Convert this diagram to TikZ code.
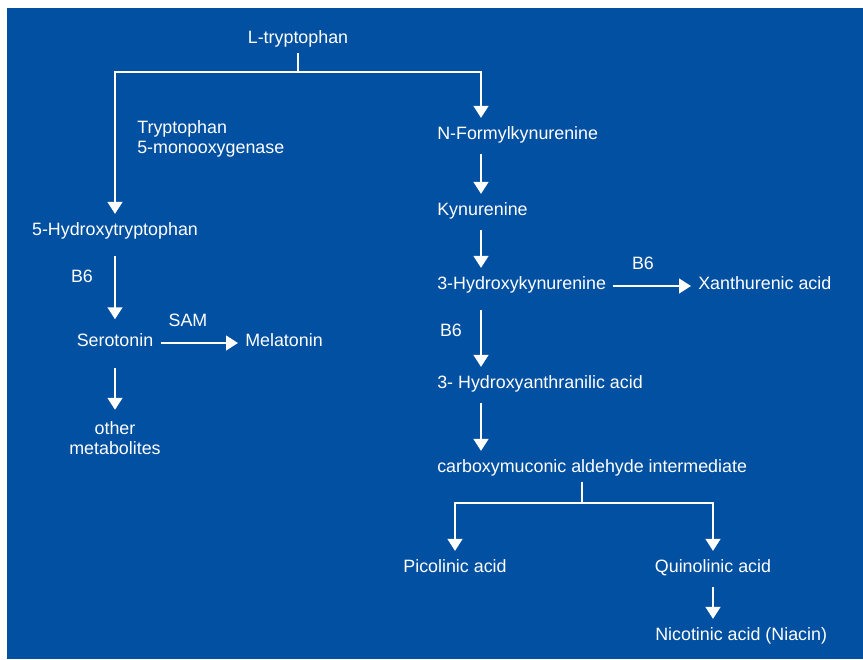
\documentclass[tikz,border=0pt]{standalone}
\usepackage{fontspec}
\setmainfont{Liberation Sans}
\usetikzlibrary{arrows.meta}
\definecolor{panelblue}{RGB}{2,80,161}
\tikzset{
  txtm/.style={text=white, font=\fontsize{12.7}{14.4}\selectfont, inner xsep=5pt, inner ysep=8pt},
  txt/.style={txtm, text height=0.72em, text depth=0.22em},
  arr/.style={draw=white, line width=1.4pt, -{Triangle[width=10.5pt,length=8.5pt]}},
  ln/.style={draw=white, line width=1.4pt},
}
\begin{document}
\begin{tikzpicture}[x=0.025cm,y=-0.025cm]
\useasboundingbox (0,0) rectangle (863,659);
\fill[panelblue] (7,8) rectangle (863,659);
% left branch
\node[txt] (trp) at (298,40) {L-tryptophan};
\node[txtm, align=left, anchor=west] (tph) at (130,139) {Tryptophan\\5-monooxygenase};
\node[txt] (htp) at (115,232) {5-Hydroxytryptophan};
\node[txt] (b6a) at (82,279) {B6};
\node[txt] (ser) at (115,343) {Serotonin};
\node[txt] (sam) at (188,323) {SAM};
\node[txt] (mel) at (284,343) {Melatonin};
\node[txtm, align=center] (oth) at (115,438) {other\\metabolites};
% right branch
\node[txt, anchor=west] (nfk) at (430,136) {N-Formylkynurenine};
\node[txt, anchor=west] (kyn) at (430,212) {Kynurenine};
\node[txt, anchor=west] (hky) at (430,286) {3-Hydroxykynurenine};
\node[txt] (b6b) at (643,266) {B6};
\node[txt, anchor=west] (xan) at (691,286) {Xanthurenic acid};
\node[txt] (b6c) at (451,333) {B6};
\node[txt, anchor=west] (haa) at (430,385) {3- Hydroxyanthranilic acid};
\node[txt, anchor=west] (cmi) at (430,469) {carboxymuconic aldehyde intermediate};
\node[txt] (pic) at (455,569) {Picolinic acid};
\node[txt] (qui) at (713,569) {Quinolinic acid};
\node[txt, anchor=west] (nic) at (648,637) {Nicotinic acid (Niacin)};
\coordinate (split) at (298,72);
\coordinate (rc) at (481,0);
\coordinate (cx) at (582,0);
\coordinate (split2) at (582,503);
% connectors
\draw[ln] ([yshift=4pt]trp.south) -- (split);
\draw[arr] (split) -| (htp);
\draw[arr] (split) -| (nfk.north -| rc);
\draw[arr, shorten <=4pt, shorten >=4pt] (htp) -- (ser);
\draw[arr] (ser) -- (mel);
\draw[arr, shorten <=5pt] (ser) -- (oth);
\draw[arr] (nfk.south -| rc) -- (kyn.north -| rc);
\draw[arr] (kyn.south -| rc) -- (hky.north -| rc);
\draw[arr] (hky) -- (xan);
\draw[arr, shorten <=4pt] (hky.south -| rc) -- (haa.north -| rc);
\draw[arr] (haa.south -| rc) -- (cmi.north -| rc);
\draw[ln] ([yshift=4pt]cmi.south -| cx) -- (split2);
\draw[arr] (split2) -| (pic);
\draw[arr] (split2) -| (qui);
\draw[arr] (qui) -- (nic.north -| qui);
\end{tikzpicture}
\end{document}
